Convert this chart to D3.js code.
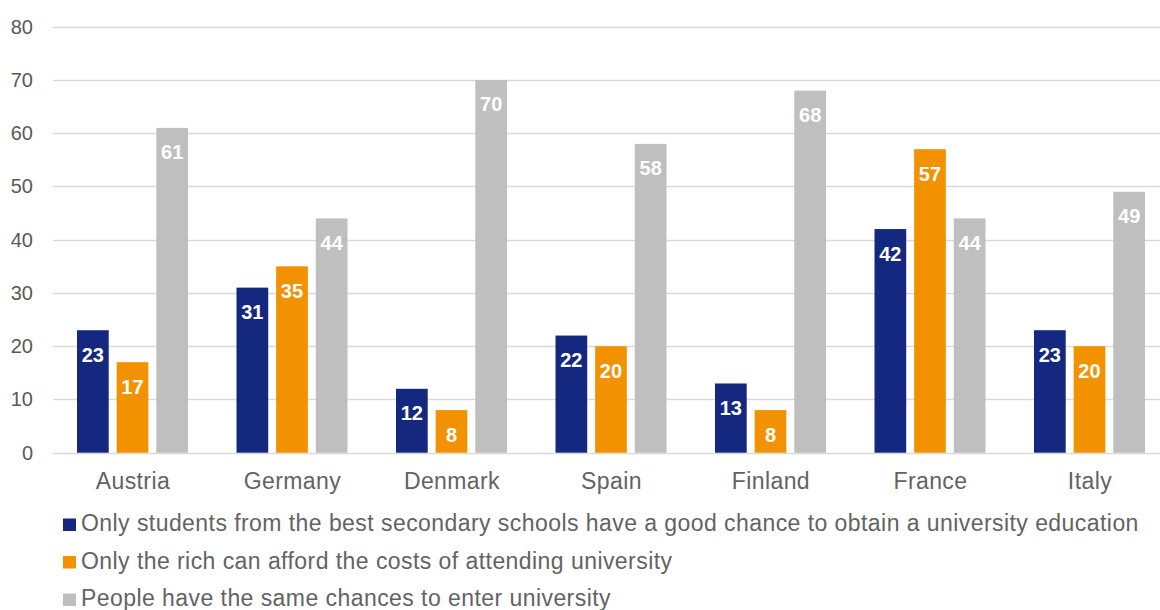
<!DOCTYPE html>
<html lang="en">
<head>
  <meta charset="utf-8" />
  <title>University chances</title>
  <script src="https://cdn.jsdelivr.net/npm/d3@7"></script>
  <style>
    body { margin: 0; background: #fff; }
    text { font-family: "Liberation Sans", Arial, sans-serif; }
  </style>
</head>
<body>
  <script>
    var countries = ["Austria", "Germany", "Denmark", "Spain", "Finland", "France", "Italy"];
    var seriesNames = [
      "Only students from the best secondary schools have a good chance to obtain a university education",
      "Only the rich can afford the costs of attending university",
      "People have the same chances to enter university"
    ];
    var bestSchools = [23, 31, 12, 22, 13, 42, 23];
    var richOnly = [17, 35, 8, 20, 8, 57, 20];
    var sameChances = [61, 44, 70, 58, 68, 44, 49];
    var yTicks = [0, 10, 20, 30, 40, 50, 60, 70, 80];
    var colors = ["#14287f", "#f39200", "#bfbfbf"];

    var allSeries = [bestSchools, richOnly, sameChances];
    var width = 1160, height = 610;

    var svg = d3.select("body").append("svg")
      .attr("width", width).attr("height", height);

    var y = d3.scaleLinear().domain([0, 80]).range([452.7, 26.7]);
    var x0 = d3.scaleBand().domain(countries).range([52.7, 1169.2]);
    var x1 = d3.scaleBand().domain(d3.range(3))
      .range([24.3, 135.3]).paddingInner(0.2);

    // grid lines
    svg.append("g").selectAll("line")
      .data(yTicks)
      .enter().append("line")
      .attr("x1", 53).attr("x2", width)
      .attr("y1", function(d) { return Math.round(y(d)) + 0.5; })
      .attr("y2", function(d) { return Math.round(y(d)) + 0.5; })
      .attr("stroke", "#d9d9d9").attr("stroke-width", 1.3);

    svg.append("g").selectAll("text")
      .data(yTicks)
      .enter().append("text")
      .attr("x", 33).attr("y", function(d) { return y(d) + 7; })
      .attr("text-anchor", "end")
      .attr("font-size", 20).attr("fill", "#595959")
      .text(function(d) { return d; });

    var groups = svg.append("g").selectAll("g")
      .data(countries)
      .enter().append("g")
      .attr("transform", function(d) { return "translate(" + x0(d) + ",0)"; });

    groups.selectAll("rect")
      .data(function(d, i) { return allSeries.map(function(s, k) { return { k: k, v: s[i] }; }); })
      .enter().append("rect")
      .attr("x", function(d) { return x1(d.k); })
      .attr("width", x1.bandwidth())
      .attr("y", function(d) { return y(d.v); })
      .attr("height", function(d) { return y(0) - y(d.v); })
      .attr("fill", function(d) { return colors[d.k]; });

    groups.selectAll("text.val")
      .data(function(d, i) { return allSeries.map(function(s, k) { return { k: k, v: s[i] }; }); })
      .enter().append("text")
      .attr("class", "val")
      .attr("x", function(d) { return x1(d.k) + x1.bandwidth() / 2; })
      .attr("y", function(d) { return y(d.v) + 31.5; })
      .attr("text-anchor", "middle")
      .attr("font-size", 20).attr("font-weight", "bold").attr("fill", "#fff")
      .text(function(d) { return d.v; });

    groups.append("text")
      .attr("x", x0.bandwidth() / 2 + 0.5)
      .attr("y", 488.5)
      .attr("text-anchor", "middle")
      .attr("font-size", 23).attr("letter-spacing", 0.4).attr("fill", "#636363")
      .text(function(d) { return d; });

    // legend
    var legend = svg.append("g").selectAll("g")
      .data(seriesNames)
      .enter().append("g")
      .attr("transform", function(d, i) { return "translate(63," + (531 + i * 37.5) + ")"; });

    legend.append("rect")
      .attr("x", 0).attr("y", -12.5)
      .attr("width", 13).attr("height", 12.5)
      .attr("fill", function(d, i) { return colors[i]; });

    legend.append("text")
      .attr("x", 18).attr("y", 0)
      .attr("font-size", 23).attr("letter-spacing", 0.44).attr("fill", "#636363")
      .text(function(d) { return d; });
  </script>
</body>
</html>
